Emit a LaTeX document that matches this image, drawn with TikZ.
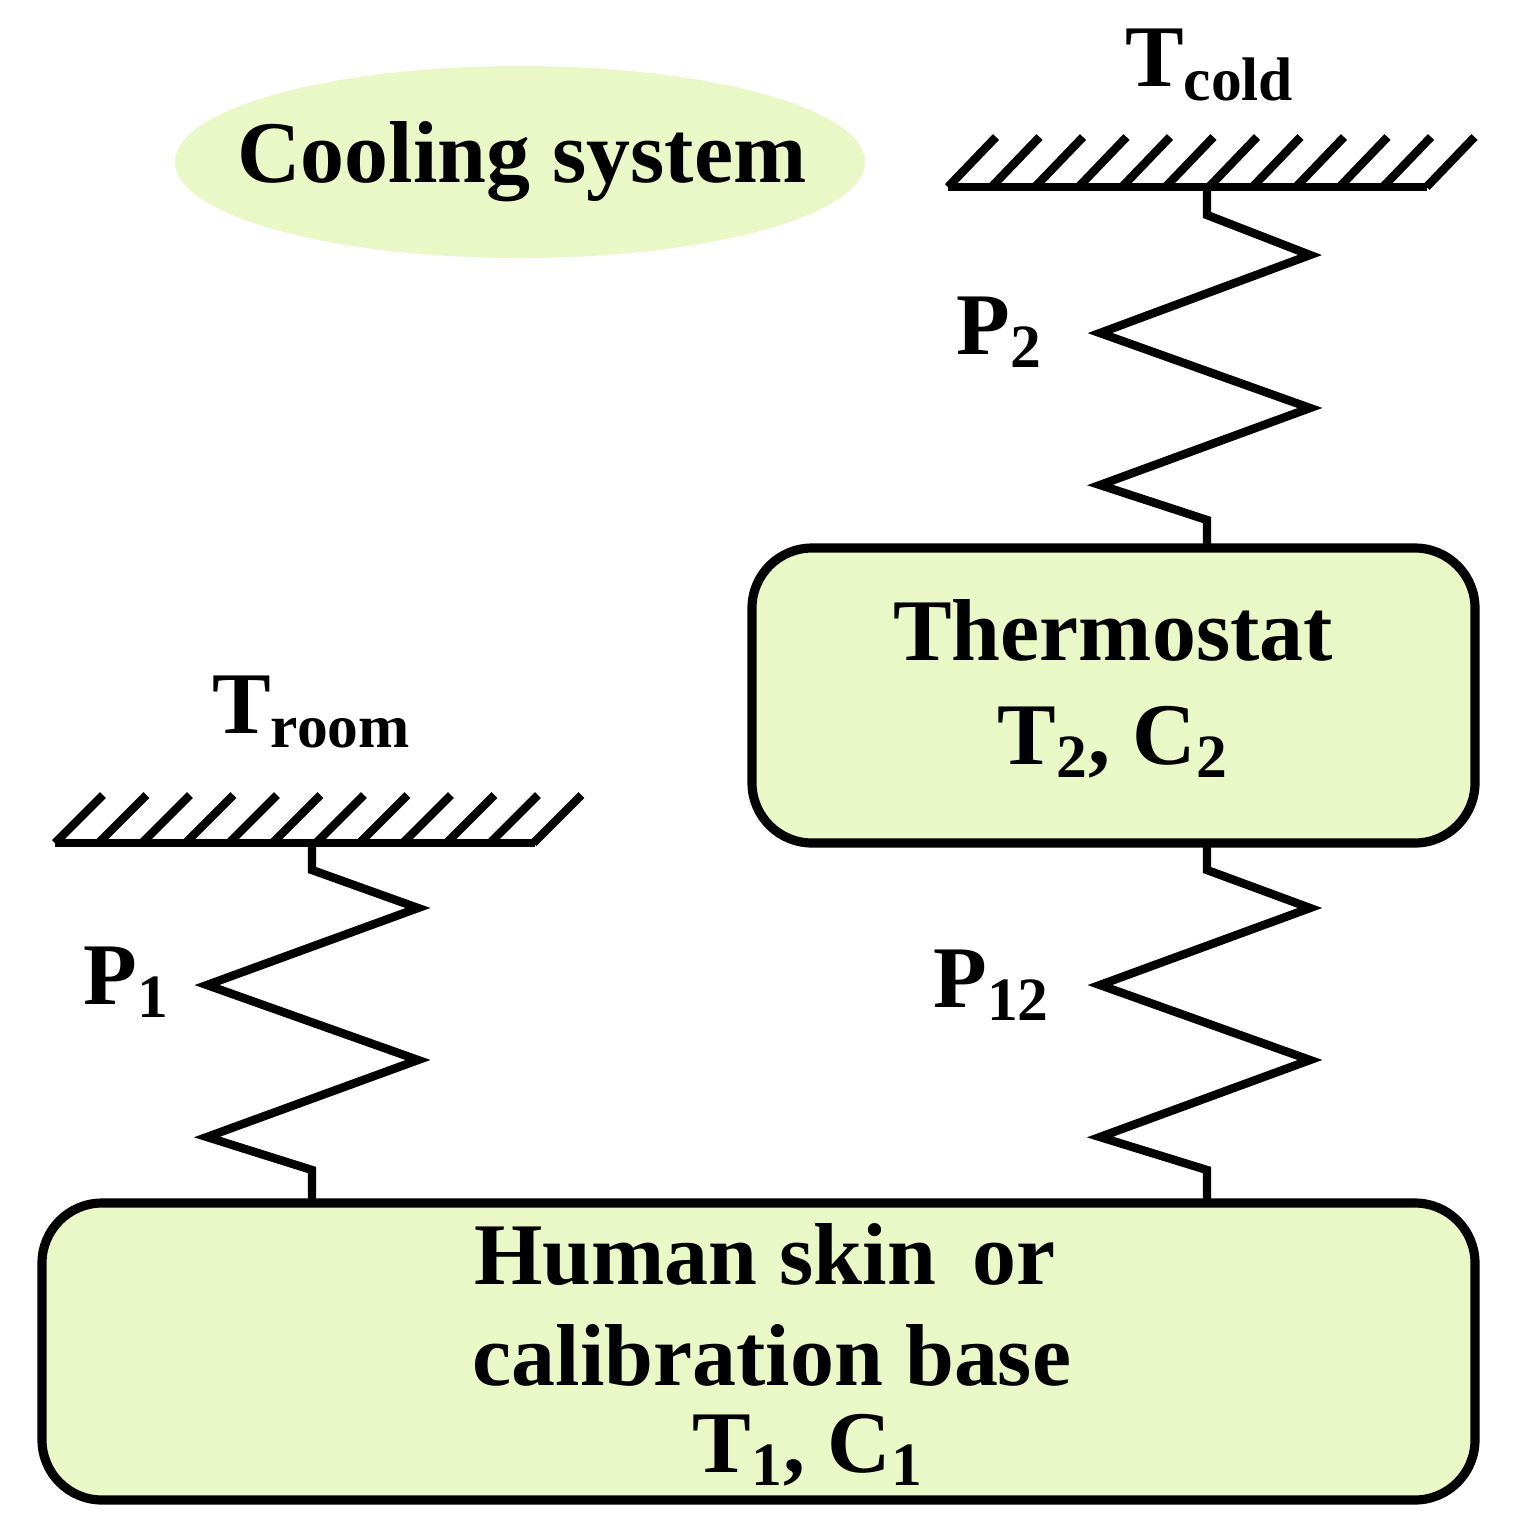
\documentclass[tikz,border=0pt]{standalone}
\usepackage{fontspec}
\setmainfont{Liberation Serif}
\definecolor{lg}{HTML}{EAF7C6}
\begin{document}
\begin{tikzpicture}[x=0.01cm,y=-0.01cm,
  thick line/.style={line width=2.4pt,line join=miter},
  boxstyle/.style={draw,line width=2.6pt,fill=lg,rounded corners=0.6cm},
  lbl/.style={font=\fontsize{25}{30}\selectfont\bfseries,inner sep=0pt}]
\useasboundingbox (0,0) rectangle (1527,1536);
% ellipse
\fill[lg] (520,162) ellipse [x radius=345, y radius=96];
\node[lbl] (cool) at (522,162) {Cooling system};
% ground Tcold
\draw[thick line] (948,187) -- (1427,187);
\foreach \x in {948,991.5,...,1430} \draw[thick line] (\x,187) -- (\x+48,137);
\node[lbl] (tcold) at (1210,65) {T\textsubscript{cold}};
% ground Troom
\draw[thick line] (55,843) -- (535,843);
\foreach \x in {55,98.5,...,540} \draw[thick line] (\x,843) -- (\x+48,795);
\node[lbl] (troom) at (312,712) {T\textsubscript{room}};
% boxes
\draw[boxstyle] (752,548) rectangle (1475,843);
\node[lbl] (thermo) at (1113,630) {Thermostat};
\node[lbl] (thermo2) at (1113,742) {T\textsubscript{2}, C\textsubscript{2}};
\draw[boxstyle] (42,1203) rectangle (1475,1500);
\node[lbl] (base1) at (765,1255) {Human skin\, or};
\node[lbl] (base2) at (772,1355) {calibration base};
\node[lbl] (base3) at (808,1450) {T\textsubscript{1}, C\textsubscript{1}};
% springs
\coordinate (s2a) at (1207,187); \coordinate (s2b) at (1207,548);
\draw[thick line] (s2a) -- (1207,215) -- (1310,255) -- (1100,333) -- (1310,408) -- (1100,485) -- (1207,520) -- (s2b);
\coordinate (s12a) at (1207,843); \coordinate (s12b) at (1207,1203);
\draw[thick line] (s12a) -- (1207,870) -- (1310,908) -- (1100,985) -- (1310,1060) -- (1100,1137) -- (1207,1170) -- (s12b);
\coordinate (s1a) at (312,843); \coordinate (s1b) at (312,1203);
\draw[thick line] (s1a) -- (312,870) -- (418,908) -- (207,985) -- (418,1060) -- (207,1137) -- (312,1170) -- (s1b);
\node[lbl] (p1) at (127,982) {P\textsubscript{1}};
\node[lbl] (p2) at (1000,332) {P\textsubscript{2}};
\node[lbl] (p12) at (992,985) {P\textsubscript{12}};
\end{tikzpicture}
\end{document}
